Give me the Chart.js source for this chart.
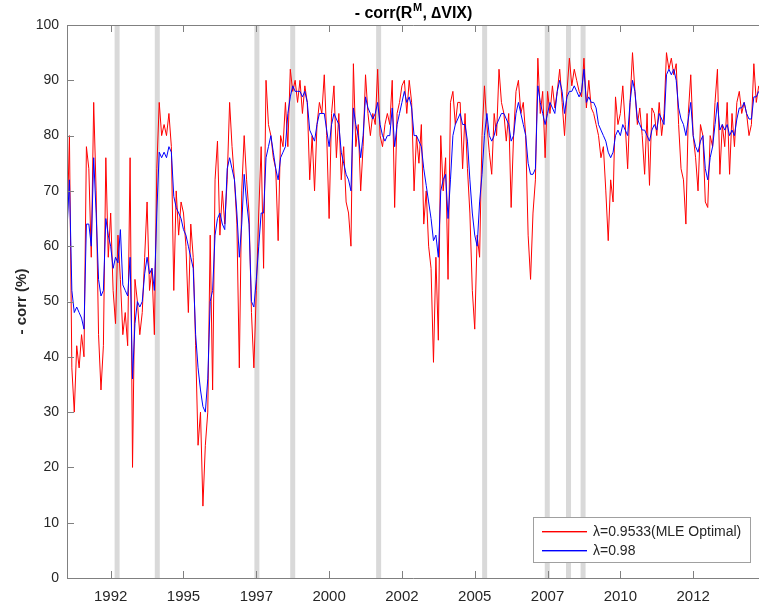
<!DOCTYPE html>
<html>
<head>
<meta charset="utf-8">
<script src="https://cdn.jsdelivr.net/npm/chart.js@4.4.0/dist/chart.umd.min.js"></script>
<style>
    html, body { margin: 0; padding: 0; background: #fff; }
    #wrap { width: 759px; height: 609px; }
</style>
</head>
<body>
<div id="wrap"><canvas id="corr-chart" width="759" height="609"></canvas></div>
<script>
// Monthly observations, first one is Jan 1991
const startYear = 1991;

// lambda = 0.9533 (MLE optimal)
const redValues = [
    62, 80, 38, 30, 42, 38, 44, 40, 78, 74, 58, 86,   // 1991
    70, 44, 34, 42, 76, 58, 66, 52, 46, 62, 54, 44,   // 1992
    48, 42, 76, 20, 54, 50, 44, 48, 58, 68, 52, 56,   // 1993
    44, 74, 86, 80, 82, 80, 84, 78, 52, 70, 62, 68,   // 1994
    66, 60, 48, 64, 58, 42, 24, 30, 13, 24, 30, 62,   // 1995
    34, 72, 79, 62, 70, 64, 72, 86, 78, 72, 64, 38,   // 1996
    70, 80, 72, 66, 48, 38, 52, 66, 78, 56, 90, 82,   // 1997
    80, 76, 74, 61, 80, 78, 86, 78, 92, 88, 90, 86,   // 1998
    90, 84, 89, 86, 72, 80, 70, 82, 86, 84, 91, 80,   // 1999
    65, 84, 89, 76, 84, 72, 78, 68, 66, 60, 93, 78,   // 2000
    82, 70, 78, 91, 84, 80, 84, 82, 92, 80, 78, 82,   // 2001
    84, 82, 90, 67, 84, 86, 89, 90, 84, 90, 86, 70,   // 2002
    80, 75, 82, 64, 70, 60, 56, 39, 58, 43, 80, 70,   // 2003
    76, 54, 86, 88, 82, 86, 86, 74, 84, 74, 66, 52,   // 2004
    45, 62, 58, 80, 89, 82, 77, 73, 84, 80, 92, 86,   // 2005
    84, 79, 84, 67, 80, 88, 90, 84, 86, 80, 62, 54,   // 2006
    66, 72, 94, 84, 88, 76, 88, 84, 89, 85, 88, 92,   // 2007
    86, 80, 88, 94, 89, 92, 90, 88, 87, 94, 85, 90,   // 2008
    85, 84, 82, 80, 76, 78, 70, 61, 72, 68, 87, 82,   // 2009
    84, 89, 82, 74, 86, 95, 88, 82, 85, 80, 73, 84,   // 2010
    71, 85, 84, 80, 86, 80, 84, 95, 92, 94, 91, 93,   // 2011
    82, 74, 72, 64, 84, 91, 80, 76, 70, 82, 80, 68,   // 2012
    67, 80, 78, 86, 92, 73, 82, 78, 86, 73, 84, 78,   // 2013
    86, 88, 84, 86, 84, 80, 82, 93, 86, 89            // 2014
];

// lambda = 0.98
const blueValues = [
    63, 72, 52, 48, 49, 48, 47, 45, 64, 64, 60, 76,   // 1991
    66, 54, 51, 52, 65, 62, 60, 56, 58, 57, 63, 53,   // 1992
    52, 51, 58, 36, 46, 50, 49, 50, 55, 58, 55, 56,   // 1993
    52, 66, 77, 76, 77, 76, 78, 77, 69, 67, 66, 65,   // 1994
    63, 62, 60, 58, 56, 44, 38, 34, 31, 30, 36, 50,   // 1995
    52, 62, 65, 66, 64, 63, 74, 76, 74, 72, 66, 58,   // 1996
    64, 73, 68, 64, 50, 49, 54, 60, 66, 66, 76, 78,   // 1997
    80, 77, 74, 72, 76, 77, 78, 84, 87, 89, 88, 88,   // 1998
    88, 87, 88, 86, 81, 80, 79, 82, 84, 84, 84, 81,   // 1999
    78, 82, 84, 83, 82, 77, 75, 73, 72, 70, 85, 82,   // 2000
    80, 76, 80, 87, 85, 84, 83, 84, 86, 82, 80, 79,   // 2001
    80, 80, 85, 78, 82, 84, 86, 88, 86, 87, 85, 80,   // 2002
    80, 79, 78, 74, 71, 68, 65, 61, 62, 58, 70, 72,   // 2003
    73, 65, 72, 80, 82, 83, 84, 82, 82, 79, 72, 66,   // 2004
    62, 60, 68, 73, 80, 84, 80, 79, 80, 82, 83, 84,   // 2005
    84, 83, 82, 79, 80, 84, 86, 84, 82, 80, 75, 73,   // 2006
    73, 74, 89, 86, 84, 82, 84, 86, 85, 84, 88, 90,   // 2007
    88, 84, 87, 88, 88, 89, 88, 87, 88, 92, 86, 87,   // 2008
    86, 86, 85, 82, 81, 80, 79, 77, 76, 77, 80, 81,   // 2009
    80, 82, 81, 80, 86, 90, 88, 83, 82, 81, 81, 80,   // 2010
    79, 81, 82, 81, 84, 83, 82, 91, 92, 91, 92, 90,   // 2011
    85, 83, 82, 80, 83, 86, 80, 78, 77, 79, 80, 74,   // 2012
    72, 76, 78, 82, 86, 81, 82, 81, 82, 80, 81, 80,   // 2013
    83, 85, 85, 86, 84, 83, 83, 87, 87, 88            // 2014
];

// Grey event markers (decimal years)
const eventDates = [1992.72, 1994.10, 1997.52, 1998.75, 2001.70, 2005.34, 2007.49, 2008.22, 2008.72];

// x ticks and their labels
const tickPositions = [1992.5, 1995, 1997.5, 2000, 2002.5, 2005, 2007.5, 2010, 2012.5];
const tickLabels = ['1992', '1995', '1997', '2000', '2002', '2005', '2007', '2010', '2012'];

const seriesLabels = ['\u03bb=0.9533(MLE Optimal)', '\u03bb=0.98'];
const seriesColors = ['#ff0000', '#0000ff'];

const FONT = '"Liberation Sans", Arial, sans-serif';
const TEXT_COLOR = '#262626';
const AXIS_COLOR = '#808080';

function toPoints(values) {
    return values.map((v, i) => ({ x: startYear + i / 12, y: v }));
}

// Title, y label, box, inner ticks and legend
const decorations = {
    id: 'decorations',
    afterDatasetsDraw(chart) {
        const ctx = chart.ctx;
        const { left, right, top, bottom } = chart.chartArea;
        const xScale = chart.scales.x;
        const yScale = chart.scales.y;

        ctx.save();
        ctx.strokeStyle = AXIS_COLOR;
        ctx.lineWidth = 1;
        ctx.beginPath();
        ctx.moveTo(left + 0.5, top + 0.5);
        ctx.lineTo(right, top + 0.5);
        ctx.moveTo(left + 0.5, top);
        ctx.lineTo(left + 0.5, bottom + 0.5);
        ctx.lineTo(right, bottom + 0.5);

        tickPositions.forEach(v => {
            const px = Math.round(xScale.getPixelForValue(v)) + 0.5;
            ctx.moveTo(px, bottom);
            ctx.lineTo(px, bottom - 7);
            ctx.moveTo(px, top);
            ctx.lineTo(px, top + 7);
        });
        yScale.ticks.forEach(t => {
            const py = Math.round(yScale.getPixelForValue(t.value)) + 0.5;
            ctx.moveTo(left, py);
            ctx.lineTo(left + 7, py);
        });
        ctx.stroke();

        // title with superscript M
        const cx = (left + right) / 2;
        const ty = 18;
        const part1 = '- corr(R';
        const sup = 'M';
        const part2 = ', \u2206VIX)';
        ctx.fillStyle = '#000';
        ctx.textBaseline = 'alphabetic';
        ctx.font = 'bold 16px ' + FONT;
        const w1 = ctx.measureText(part1).width;
        const w3 = ctx.measureText(part2).width;
        ctx.font = 'bold 11px ' + FONT;
        const w2 = ctx.measureText(sup).width;
        const x0 = cx - (w1 + w2 + w3) / 2;
        ctx.font = 'bold 16px ' + FONT;
        ctx.textAlign = 'left';
        ctx.fillText(part1, x0, ty);
        ctx.font = 'bold 11px ' + FONT;
        ctx.fillText(sup, x0 + w1 + 0.5, ty - 7);
        ctx.font = 'bold 16px ' + FONT;
        ctx.fillText(part2, x0 + w1 + w2 + 1, ty);

        // y axis title
        ctx.save();
        ctx.translate(22, (top + bottom) / 2);
        ctx.rotate(-Math.PI / 2);
        ctx.textAlign = 'center';
        ctx.textBaseline = 'middle';
        ctx.font = 'bold 15px ' + FONT;
        ctx.fillStyle = TEXT_COLOR;
        ctx.fillText('- corr (%)', 0, 0);
        ctx.restore();

        // legend box
        const lx = 533.5, ly = 517.5, lw = 217, lh = 45;
        ctx.fillStyle = '#fff';
        ctx.fillRect(lx, ly, lw, lh);
        ctx.strokeStyle = '#a0a0a0';
        ctx.lineWidth = 1;
        ctx.strokeRect(lx, ly, lw, lh);
        ctx.font = '14px ' + FONT;
        ctx.textAlign = 'left';
        ctx.textBaseline = 'middle';
        for (let i = 0; i < seriesLabels.length; i++) {
            const rowY = 531 + i * 19;
            ctx.fillStyle = seriesColors[i];
            ctx.fillRect(542, rowY, 45, 1.4);
            ctx.fillStyle = TEXT_COLOR;
            ctx.fillText(seriesLabels[i], 593, rowY + 1);
        }
        ctx.restore();
    }
};

const eventSets = eventDates.map(d => ({
    data: [{ x: d, y: 0 }, { x: d, y: 100 }],
    borderColor: '#d9d9d9',
    borderWidth: 5,
    pointRadius: 0,
    order: 3
}));

new Chart(document.getElementById('corr-chart'), {
    type: 'line',
    data: {
        datasets: [
            {
                label: seriesLabels[1],
                data: toPoints(blueValues),
                borderColor: seriesColors[1],
                borderWidth: 1,
                pointRadius: 0,
                order: 0
            },
            {
                label: seriesLabels[0],
                data: toPoints(redValues),
                borderColor: seriesColors[0],
                borderWidth: 1,
                pointRadius: 0,
                order: 1
            },
            ...eventSets
        ]
    },
    options: {
        responsive: false,
        animation: false,
        layout: { padding: { top: 25, right: 0, left: 0, bottom: 0 } },
        plugins: {
            legend: { display: false },
            tooltip: { enabled: false },
            title: { display: false }
        },
        scales: {
            x: {
                type: 'linear',
                min: 1991.0,
                max: 2014.76,
                afterBuildTicks: scale => {
                    scale.ticks = tickPositions.map(v => ({ value: v }));
                },
                afterFit: scale => { scale.height = 31; },
                ticks: {
                    autoSkip: false,
                    maxRotation: 0,
                    padding: 10,
                    color: TEXT_COLOR,
                    font: { family: FONT, size: 15 },
                    callback: (value, index) => tickLabels[index]
                },
                grid: { drawOnChartArea: false, drawTicks: false },
                border: { display: false }
            },
            y: {
                min: 0,
                max: 100,
                afterFit: scale => { scale.width = 67; },
                ticks: {
                    stepSize: 10,
                    padding: 8,
                    color: TEXT_COLOR,
                    font: { family: FONT, size: 14 }
                },
                grid: { drawOnChartArea: false, drawTicks: false },
                border: { display: false }
            }
        }
    },
    plugins: [decorations]
});
</script>
</body>
</html>
